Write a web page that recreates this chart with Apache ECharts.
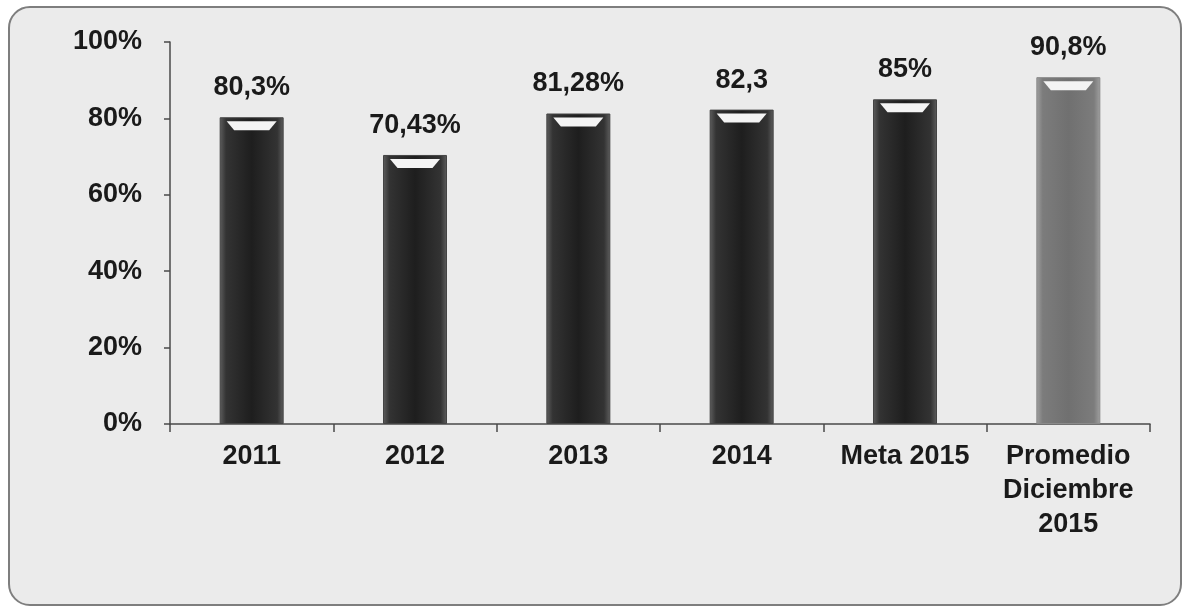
<!DOCTYPE html>
<html><head><meta charset="utf-8">
<script src="https://cdn.jsdelivr.net/npm/echarts@6/dist/echarts.min.js"></script>
<style>
html,body{margin:0;padding:0;background:#fff;}
#frame{position:absolute;left:8px;top:6px;width:1170px;height:596px;border:2px solid #7e7e7e;border-radius:22px;background:#ebebeb;}
#c{position:absolute;left:0;top:0;width:1186px;height:610px;}
</style></head>
<body>
<div id="frame"></div>
<div id="c"></div>
<script>
const categories = ['2011','2012','2013','2014','Meta 2015','Promedio\nDiciembre\n2015'];
const values = [80.3, 70.43, 81.28, 82.3, 85, 90.8];
const valueLabels = ['80,3%','70,43%','81,28%','82,3','85%','90,8%'];
const yTicks = [0,20,40,60,80,100];

const chart = echarts.init(document.getElementById('c'), null, {renderer:'canvas'});
const darkGrad = new echarts.graphic.LinearGradient(0,0,1,0,[
  {offset:0,color:'#5e5e5e'},{offset:0.1,color:'#333333'},{offset:0.5,color:'#1e1e1e'},{offset:0.9,color:'#333333'},{offset:1,color:'#5e5e5e'}]);
const greyGrad = new echarts.graphic.LinearGradient(0,0,1,0,[
  {offset:0,color:'#a0a0a0'},{offset:0.1,color:'#7c7c7c'},{offset:0.5,color:'#707070'},{offset:0.9,color:'#7c7c7c'},{offset:1,color:'#a0a0a0'}]);
const font = '"Liberation Sans", Arial, sans-serif';
chart.setOption({
  animation:false,
  grid:{left:170,right:36,top:42,bottom:186,containLabel:false},
  xAxis:{type:'category',data:categories,
    axisLine:{lineStyle:{color:'#4a4a4a',width:1.5}},
    axisTick:{show:true,length:8,lineStyle:{color:'#4a4a4a',width:1.5}},
    axisLabel:{color:'#1a1a1a',fontFamily:font,fontWeight:'bold',fontSize:27,margin:16,lineHeight:34,interval:0}
  },
  yAxis:{type:'value',min:0,max:100,interval:20,
    axisLine:{show:true,lineStyle:{color:'#4a4a4a',width:1.5}},
    axisTick:{show:true,length:6,lineStyle:{color:'#4a4a4a',width:1.5}},
    splitLine:{show:false},
    axisLabel:{color:'#1a1a1a',fontFamily:font,fontWeight:'bold',fontSize:27,margin:28,
      formatter:v=> yTicks.includes(v) ? v+'%' : ''}
  },
  series:[
    {type:'bar',barWidth:64,
     data:values.map((v,i)=>({value:v,itemStyle:{color:i===5?greyGrad:darkGrad,borderColor:i===5?'#8a8a8a':'#444',borderWidth:1}})),
     label:{show:true,position:'top',distance:16,color:'#1a1a1a',fontFamily:font,fontWeight:'bold',fontSize:27,
       formatter:p=>valueLabels[p.dataIndex]}
    },
    {type:'pictorialBar',symbol:'path://M0,0 L10,0 L8.5,1 L1.5,1 Z',symbolSize:[50,9],symbolPosition:'end',
     symbolOffset:[0,4],z:5,itemStyle:{color:'#f4f4f4'},data:values,silent:true}
  ]
});
</script>
</body></html>
